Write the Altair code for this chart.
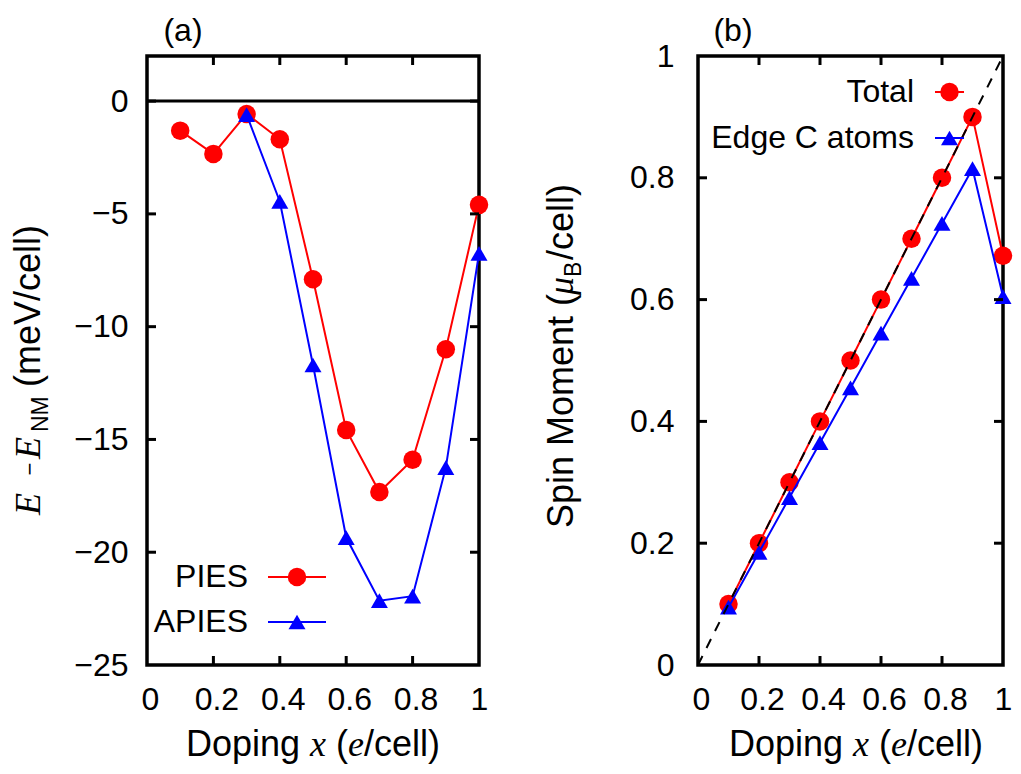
import altair as alt
import pandas as pd

# ---------------- data ----------------
doping = [0.1, 0.2, 0.3, 0.4, 0.5, 0.6, 0.7, 0.8, 0.9, 1.0]
pies = [-1.31, -2.34, -0.57, -1.69, -7.9, -14.58, -17.33, -15.9, -11.0, -4.6]
apies_doping = [0.3, 0.4, 0.5, 0.6, 0.7, 0.8, 0.9, 1.0]
apies = [-0.6, -4.45, -11.7, -19.35, -22.15, -21.95, -16.25, -6.75]

total = [0.1, 0.2, 0.3, 0.4, 0.5, 0.6, 0.7, 0.8, 0.9, 0.672]
edge = [0.095, 0.185, 0.275, 0.365, 0.455, 0.545, 0.635, 0.725, 0.815, 0.605]
diag_x = [0.0, 1.0]

a_xlabels = [0, 0.2, 0.4, 0.6, 0.8, 1]
a_ylabels = [-25, -20, -15, -10, -5, 0]
a_yticks = [-20, -15, -10, -5, 0]
b_ylabels = [0, 0.2, 0.4, 0.6, 0.8, 1]
inner_xticks = [0.2, 0.4, 0.6, 0.8]
b_yticks = [0.2, 0.4, 0.6, 0.8]

# ---------------- style ----------------
W_A, W_B, H = 332, 305, 609
GAP = 219
RED, BLUE = "#ff0000", "#0000ff"
SANS, SERIF = "Liberation Sans", "Liberation Serif"
FS, TS, SUB = 32, 36, 23
CIRC, TRI = 342, 289
one = pd.DataFrame({"k": [0]})


def txt(s, x, y, size=FS, font=SANS, style="normal", align="left",
        baseline="alphabetic", angle=0):
    return alt.Chart(one).mark_text(
        text=s, font=font, fontSize=size, fontStyle=style, align=align,
        baseline=baseline, angle=angle, color="black"
    ).encode(x=alt.value(x), y=alt.value(y))


def xaxis(values):
    return alt.Axis(values=values, format="~g", labelFont=SANS, labelFontSize=FS,
                    labelColor="black", ticks=False, domain=False, grid=False,
                    labelPadding=19,
                    labelOffset={"condition": {"test": "datum.value >= 1", "value": 0},
                                 "value": 3},
                    labelFlush=False, labelOverlap=False, title=None)


def yaxis(values, pad):
    return alt.Axis(values=values, format="~g", labelFont=SANS, labelFontSize=FS,
                    labelColor="black", ticks=False, domain=False, grid=False,
                    labelPadding=pad, labelOverlap=False, title=None)


def inner_ticks(xs, ys, xsc, ysc, w, axes):
    xdf = pd.DataFrame({"v": xs})
    ydf = pd.DataFrame({"v": ys})
    layers = []
    for y0, y1 in [(H, H - 9), (0, 9)]:
        layers.append(alt.Chart(xdf).mark_rule(color="black", strokeWidth=3).encode(
            x=alt.X("v:Q", scale=xsc, axis=axes[0]), y=alt.value(y0), y2=alt.value(y1)))
    for x0, x1 in [(0, 9), (w, w - 9)]:
        layers.append(alt.Chart(ydf).mark_rule(color="black", strokeWidth=3).encode(
            y=alt.Y("v:Q", scale=ysc, axis=axes[1]), x=alt.value(x0), x2=alt.value(x1)))
    return layers


def series(xs, ys, color, shape, size, xsc, ysc, axes):
    df = pd.DataFrame({"x": xs, "y": ys})
    enc = dict(x=alt.X("x:Q", scale=xsc, axis=axes[0]),
               y=alt.Y("y:Q", scale=ysc, axis=axes[1]))
    line = alt.Chart(df).mark_line(color=color, strokeWidth=2).encode(**enc)
    pts = alt.Chart(df).mark_point(shape=shape, filled=True, color=color, size=size,
                                   opacity=1, strokeWidth=0).encode(**enc)
    return [line, pts]


def legend_entry(label, tx, lx0, lx1, y, color, shape, size):
    return [
        txt(label, tx, y, align="right", baseline="middle"),
        alt.Chart(one).mark_rule(color=color, strokeWidth=2).encode(
            x=alt.value(lx0), x2=alt.value(lx1), y=alt.value(y)),
        alt.Chart(one).mark_point(shape=shape, filled=True, color=color, size=size,
                                  opacity=1, strokeWidth=0).encode(
            x=alt.value((lx0 + lx1) / 2), y=alt.value(y)),
    ]


def x_title(cx, y):
    return [
        txt("Doping", cx - 127, y, size=TS),
        txt("x", cx - 3, y, size=TS, font=SERIF, style="italic"),
        txt("(", cx + 23, y, size=TS),
        txt("e", cx + 35, y, size=TS, font=SERIF, style="italic"),
        txt("/cell)", cx + 51, y, size=TS),
    ]


# ---------------- panel (a) ----------------
xs_a = alt.Scale(domain=[0, 1], nice=False, zero=False)
ys_a = alt.Scale(domain=[-25, 2], nice=False, zero=False)
axes_a = (xaxis(a_xlabels), yaxis(a_ylabels, 19))

zero_line = alt.Chart(pd.DataFrame({"y": [0]})).mark_rule(color="black", strokeWidth=3).encode(
    y=alt.Y("y:Q", scale=ys_a, axis=axes_a[1]))

layers_a = [zero_line]
layers_a += series(doping, pies, RED, "circle", CIRC, xs_a, ys_a, axes_a)
layers_a += series(apies_doping, apies, BLUE, "triangle-up", TRI, xs_a, ys_a, axes_a)
layers_a += inner_ticks(inner_xticks, a_yticks, xs_a, ys_a, W_A, axes_a)
layers_a += legend_entry("PIES", 101, 121, 179, 521, RED, "circle", CIRC)
layers_a += legend_entry("APIES", 101, 121, 179, 566, BLUE, "triangle-up", TRI)
layers_a += x_title(W_A / 2, 700)
bx = -107
layers_a += [
    txt("E", bx, 459, size=TS, font=SERIF, style="italic", angle=270),
    txt("−", bx - 3, 413, size=22, align="center", angle=270),
    txt("E", bx, 403, size=TS, font=SERIF, style="italic", angle=270),
    txt("NM", bx + 8, 376, size=SUB, angle=270),
    txt("(meV/cell)", bx, 331, size=TS, angle=270),
    txt("(a)", 36, -25, align="center", baseline="middle"),
]
panel_a = alt.layer(*layers_a).properties(width=W_A, height=H)

# ---------------- panel (b) ----------------
xs_b = alt.Scale(domain=[0, 1], nice=False, zero=False)
ys_b = alt.Scale(domain=[0, 1], nice=False, zero=False)
axes_b = (xaxis(a_xlabels), yaxis(b_ylabels, 24))

layers_b = []
layers_b += series(doping, total, RED, "circle", CIRC, xs_b, ys_b, axes_b)
layers_b += series(doping, edge, BLUE, "triangle-up", TRI, xs_b, ys_b, axes_b)
layers_b.append(
    alt.Chart(pd.DataFrame({"x": diag_x, "y": diag_x})).mark_line(
        color="black", strokeWidth=2, strokeDash=[10, 9]).encode(
        x=alt.X("x:Q", scale=xs_b, axis=axes_b[0]),
        y=alt.Y("y:Q", scale=ys_b, axis=axes_b[1])))
layers_b += inner_ticks(inner_xticks, b_yticks, xs_b, ys_b, W_B, axes_b)
layers_b += legend_entry("Total", 216, 237, 266, 36, RED, "circle", CIRC)
layers_b += legend_entry("Edge C atoms", 216, 237, 266, 82, BLUE, "triangle-up", TRI)
layers_b += x_title(158, 700)
bxb = -125
layers_b += [
    txt("Spin Moment (", bxb, 472, size=TS, angle=270),
    txt("μ", bxb, 239, size=TS, font=SERIF, style="italic", angle=270),
    txt("B", bxb + 8, 221, size=SUB, angle=270),
    txt("/cell)", bxb, 204, size=TS, angle=270),
    txt("(b)", 35, -25, align="center", baseline="middle"),
]
panel_b = alt.layer(*layers_b).properties(width=W_B, height=H)

chart = alt.hconcat(panel_a, panel_b, spacing=GAP, bounds="flush").properties(
    autosize=alt.AutoSizeParams(type="none"),
    padding={"left": 139, "top": 48, "right": 866, "bottom": 710},
).configure_view(stroke="black", strokeWidth=3.5)

chart.save("out.html", embed_options={"renderer": "svg", "actions": False})
